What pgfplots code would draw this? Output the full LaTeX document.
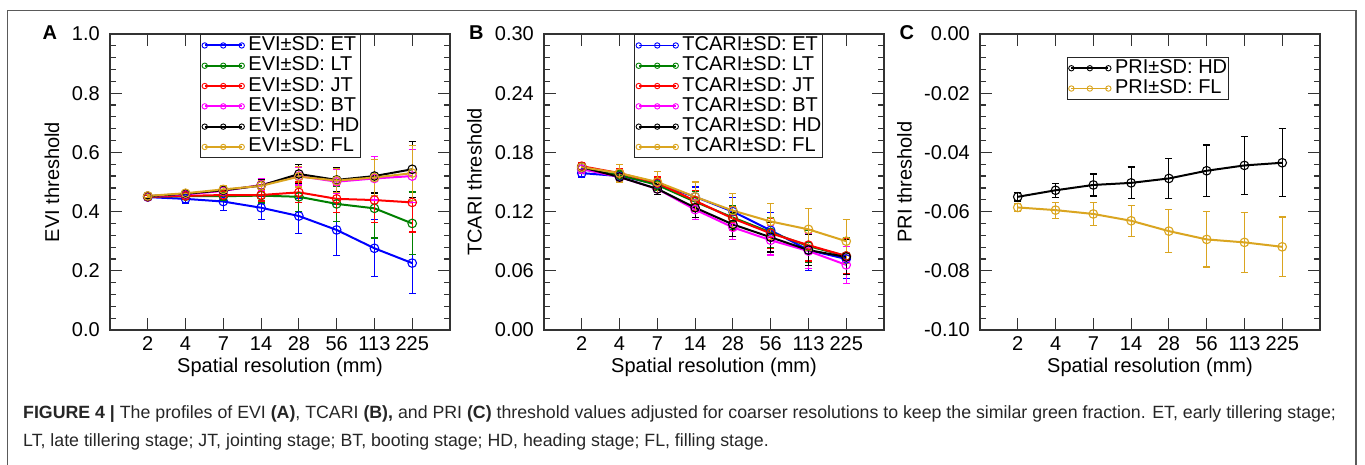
\documentclass[border=0pt]{standalone}
\usepackage{fontspec}
\setmainfont{Liberation Sans}
\usepackage{pgfplots}
\pgfplotsset{compat=1.18}
\definecolor{cET}{RGB}{0,0,255}
\definecolor{cLT}{RGB}{0,128,0}
\definecolor{cJT}{RGB}{255,0,0}
\definecolor{cBT}{RGB}{255,0,255}
\definecolor{cHD}{RGB}{0,0,0}
\definecolor{cFL}{RGB}{218,165,32}
\definecolor{framec}{RGB}{90,90,90}
\newcommand{\bigf}{\fontsize{20bp}{24bp}\selectfont}

\pgfplotsset{
  panel/.style={
    scale only axis, width=340bp, height=296bp,
    xmin=-1, xmax=8, xtick={0,...,7}, xticklabels={2,4,7,14,28,56,113,225},
    axis line style={line width=1.2bp, black!80},
    every tick/.style={line width=1.2bp, black!80},
    major tick length=12bp, minor tick length=6bp,
    minor y tick num=4,
    tick label style={font=\bigf},
    xticklabel style={anchor=north, inner sep=0pt, yshift=-6.5bp},
    yticklabel style={anchor=east, inner sep=0pt, xshift=-10bp},
    xlabel={Spatial resolution (mm)},
    every axis x label/.style={at={(axis description cs:0.5,-0.1419)}, anchor=base, inner sep=0pt, font=\bigf},
    legend style={draw=black!85, line width=0.9bp, fill=white, inner xsep=1.5bp, inner ysep=1.5bp,
      font=\bigf, row sep=1.3bp, nodes={inner sep=0pt, text height=14.5bp, text depth=4.5bp},
      /tikz/every odd column/.append style={column sep=4bp}},
    legend cell align=left,
    legend image code/.code={\draw[#1, line width=1.9bp, mark size=2.7bp, mark options={solid, line width=0.9bp}] plot coordinates {(0bp,0bp) (18.5bp,0bp) (37bp,0bp)};},
  },
  ser/.style={color=#1, line width=2bp, mark=o, mark size=4.3bp, mark options={solid, line width=1.1bp},
    error bars/.cd, y dir=both, y explicit, error mark=-,
    error bar style={line width=1.2bp, #1},
    error mark options={rotate=90, line width=1.2bp, mark size=3.5bp, #1}},
}

\begin{document}
\begin{tikzpicture}
\useasboundingbox (0,0) rectangle (1365bp,465bp);
\fill[white] (0,0) rectangle (1365bp,465bp);
\draw[framec, line width=1.3bp] (7.5bp,0bp) -- (7.5bp,454.5bp) -- (1356bp,454.5bp) -- (1356bp,0bp);

% Panel A
\begin{axis}[panel, at={(110bp,135bp)}, anchor=south west,
  ymin=0, ymax=1, ytick={0,0.2,0.4,0.6,0.8,1}, yticklabels={0.0,0.2,0.4,0.6,0.8,1.0},
  ylabel={EVI threshold},
  every axis y label/.style={at={(axis description cs:-0.15,0.5)}, rotate=90, anchor=base, inner sep=0pt, font=\bigf},
  legend style={at={(0.265,1)}, anchor=north west}]
\addplot[ser=cET] table[x=x,y=y,y error=e] {
x y e
0 0.449 0.008
1 0.443 0.014
2 0.434 0.030
3 0.413 0.040
4 0.385 0.058
5 0.338 0.085
6 0.276 0.096
7 0.226 0.104
};
\addlegendentry{EVI±SD: ET}
\addplot[ser=cLT] table[x=x,y=y,y error=e] {
x y e
0 0.451 0.006
1 0.452 0.010
2 0.452 0.015
3 0.454 0.025
4 0.450 0.050
5 0.426 0.060
6 0.411 0.100
7 0.360 0.106
};
\addlegendentry{EVI±SD: LT}
\addplot[ser=cJT] table[x=x,y=y,y error=e] {
x y e
0 0.450 0.006
1 0.453 0.010
2 0.456 0.015
3 0.456 0.020
4 0.465 0.035
5 0.443 0.045
6 0.439 0.077
7 0.431 0.100
};
\addlegendentry{EVI±SD: JT}
\addplot[ser=cBT] table[x=x,y=y,y error=e] {
x y e
0 0.452 0.006
1 0.458 0.008
2 0.470 0.012
3 0.490 0.020
4 0.520 0.030
5 0.501 0.040
6 0.512 0.073
7 0.520 0.090
};
\addlegendentry{EVI±SD: BT}
\addplot[ser=cHD] table[x=x,y=y,y error=e] {
x y e
0 0.452 0.006
1 0.460 0.008
2 0.472 0.012
3 0.488 0.020
4 0.527 0.033
5 0.507 0.040
6 0.520 0.057
7 0.543 0.095
};
\addlegendentry{EVI±SD: HD}
\addplot[ser=cFL] table[x=x,y=y,y error=e] {
x y e
0 0.453 0.006
1 0.462 0.008
2 0.475 0.012
3 0.487 0.018
4 0.518 0.035
5 0.505 0.040
6 0.515 0.060
7 0.530 0.092
};
\addlegendentry{EVI±SD: FL}
\end{axis}

% Panel B
\begin{axis}[panel, at={(544bp,135bp)}, anchor=south west,
  ymin=0, ymax=0.3, ytick={0,0.06,0.12,0.18,0.24,0.30}, yticklabels={0.00,0.06,0.12,0.18,0.24,0.30},
  ylabel={TCARI threshold},
  every axis y label/.style={at={(axis description cs:-0.1832,0.5)}, rotate=90, anchor=base, inner sep=0pt, font=\bigf},
  legend style={at={(0.265,1)}, anchor=north west}]
\addplot[ser=cET] table[x=x,y=y,y error=e] {
x y e
0 0.159 0.004
1 0.156 0.005
2 0.148 0.006
3 0.135 0.010
4 0.120 0.014
5 0.101 0.018
6 0.081 0.021
7 0.072 0.020
};
\addlegendentry{TCARI±SD: ET}
\addplot[ser=cLT] table[x=x,y=y,y error=e] {
x y e
0 0.163 0.004
1 0.157 0.005
2 0.147 0.006
3 0.130 0.010
4 0.114 0.012
5 0.099 0.015
6 0.085 0.016
7 0.075 0.019
};
\addlegendentry{TCARI±SD: LT}
\addplot[ser=cJT] table[x=x,y=y,y error=e] {
x y e
0 0.166 0.004
1 0.159 0.005
2 0.149 0.006
3 0.131 0.010
4 0.113 0.012
5 0.098 0.015
6 0.086 0.016
7 0.075 0.018
};
\addlegendentry{TCARI±SD: JT}
\addplot[ser=cBT] table[x=x,y=y,y error=e] {
x y e
0 0.163 0.004
1 0.155 0.005
2 0.143 0.006
3 0.122 0.010
4 0.104 0.012
5 0.091 0.015
6 0.080 0.018
7 0.066 0.019
};
\addlegendentry{TCARI±SD: BT}
\addplot[ser=cHD] table[x=x,y=y,y error=e] {
x y e
0 0.165 0.004
1 0.155 0.005
2 0.143 0.006
3 0.124 0.010
4 0.107 0.012
5 0.094 0.015
6 0.081 0.016
7 0.074 0.018
};
\addlegendentry{TCARI±SD: HD}
\addplot[ser=cFL] table[x=x,y=y,y error=e] {
x y e
0 0.165 0.004
1 0.159 0.009
2 0.150 0.011
3 0.135 0.015
4 0.121 0.017
5 0.110 0.018
6 0.102 0.021
7 0.090 0.022
};
\addlegendentry{TCARI±SD: FL}
\end{axis}

% Panel C
\begin{axis}[panel, at={(980bp,135bp)}, anchor=south west,
  ymin=-0.1, ymax=0, ytick={-0.1,-0.08,-0.06,-0.04,-0.02,0}, yticklabels={-0.10,-0.08,-0.06,-0.04,-0.02,0.00},
  ylabel={PRI threshold},
  every axis y label/.style={at={(axis description cs:-0.2009,0.5)}, rotate=90, anchor=base, inner sep=0pt, font=\bigf},
  legend style={at={(0.255,0.923)}, anchor=north west}]
\addplot[ser=cHD] table[x=x,y=y,y error=e] {
x y e
0 -0.0550 0.0014
1 -0.0528 0.0024
2 -0.0510 0.0037
3 -0.0503 0.0054
4 -0.0488 0.0068
5 -0.0462 0.0087
6 -0.0444 0.0099
7 -0.0435 0.0115
};
\addlegendentry{PRI±SD: HD}
\addplot[ser=cFL] table[x=x,y=y,y error=e] {
x y e
0 -0.0586 0.0014
1 -0.0595 0.0027
2 -0.0608 0.0038
3 -0.0631 0.0052
4 -0.0666 0.0073
5 -0.0694 0.0093
6 -0.0704 0.0101
7 -0.0719 0.0101
};
\addlegendentry{PRI±SD: FL}
\end{axis}

% Panel letters
\node[anchor=base west, inner sep=0pt, font=\fontsize{20bp}{22bp}\selectfont\bfseries] at (42.5bp,425bp) {A};
\node[anchor=base west, inner sep=0pt, font=\fontsize{20bp}{22bp}\selectfont\bfseries] at (469bp,425bp) {B};
\node[anchor=base west, inner sep=0pt, font=\fontsize{20bp}{22bp}\selectfont\bfseries] at (899.5bp,425bp) {C};

% Caption
\node[anchor=base west, inner sep=0pt, text=black!85, font=\fontsize{17.75bp}{20bp}\selectfont] at (23bp,46bp)
 {\textbf{FIGURE 4 |} The profiles of EVI \textbf{(A)}, TCARI \textbf{(B),} and PRI \textbf{(C)} threshold values adjusted for coarser resolutions to keep the similar green fraction. ET, early tillering stage;};
\node[anchor=base west, inner sep=0pt, text=black!85, font=\fontsize{17.75bp}{20bp}\selectfont] at (23bp,19bp)
 {LT, late tillering stage; JT, jointing stage; BT, booting stage; HD, heading stage; FL, filling stage.};
\end{tikzpicture}
\end{document}
